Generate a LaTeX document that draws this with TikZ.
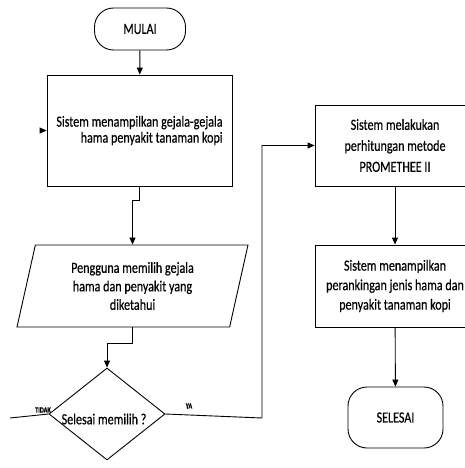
\documentclass[tikz,border=0pt]{standalone}
\usepackage{fontspec}
\setmainfont{Carlito}[FakeStretch=0.78,FakeBold=0.4]
\usetikzlibrary{shapes.geometric,arrows.meta}

\begin{document}
\begin{tikzpicture}[x=1pt,y=-1pt,line width=0.9pt,
    >={Triangle[length=7pt,width=6pt]},
    terminal/.style={draw,rounded corners=19pt,inner sep=0pt,font=\fontsize{15.5}{17}\selectfont},
    proses/.style={draw,inner sep=0pt,font=\fontsize{15.5}{21}\selectfont},
    masukan/.style={draw,trapezium,trapezium left angle=69,trapezium right angle=111,
        trapezium stretches body,inner sep=0pt,font=\fontsize{15.5}{18.5}\selectfont},
    keputusan/.style={draw,diamond,inner sep=0pt},
    label/.style={font=\fontsize{8}{9}\selectfont\bfseries}]
        \useasboundingbox (0,0) rectangle (464,468);

        % Draw the start and the steps on the left
        \node[terminal,minimum width=91pt,minimum height=42pt] (mulai) at (140,29) {MULAI};
        \node[proses,minimum width=185pt,minimum height=111pt,align=right,font=\fontsize{15.5}{16}\selectfont] (tampil) at (139.5,130.5)
            {Sistem menampilkan gejala-gejala\\hama penyakit tanaman kopi};
        \node[masukan,minimum width=231pt,minimum height=82pt,align=center] (pilih) at (132.5,286)
            {Pengguna memilih gejala\\hama dan penyakit yang\\diketahui};
        \node[keputusan,minimum width=116pt,minimum height=92pt] (pilihan) at (107,414) {};
        \node[font=\fontsize{15.5}{17}\selectfont] (tanya) at (104,419) {Selesai memilih ?};

        % Draw the steps on the right
        \node[proses,minimum width=160pt,minimum height=81pt,align=center] (hitung) at (395,145.5)
            {Sistem melakukan\\perhitungan metode\\PROMETHEE II};
        \node[proses,minimum width=160pt,minimum height=82pt,align=center,font=\fontsize{15.5}{19.5}\selectfont] (rank) at (395,286)
            {Sistem menampilkan\\perankingan jenis hama dan\\penyakit tanaman kopi};
        \node[terminal,minimum width=95pt,minimum height=61pt] (selesai) at (395.5,417.5) {SELESAI};

        % Free ends of the loose lines
        \coordinate (masuk) at (40,130.5);
        \coordinate (tidak) at (10,418);
        \coordinate (ya) at (262,418);

        % Connect the steps
        \draw[->] (mulai) -- (tampil);
        \draw[->] (masuk) -- (tampil.west);
        \draw[->] (tampil.south) -- ++(0,14) -| (pilih.north);
        \draw[->] (pilih.south) -- ++(0,16) -| (pilihan.north);
        \draw (pilihan.west) -- (tidak);
        \draw[->] (pilihan.east) -- (ya) |- (hitung.west);
        \draw[->] (hitung) -- (rank);
        \draw[->] (rank) -- (selesai);

        % Add labels on the branches
        \node[label] (labeltidak) at (43,410) {TIDAK};
        \node[label] (labelya) at (189,406) {YA};
    \end{tikzpicture}
\end{document}
